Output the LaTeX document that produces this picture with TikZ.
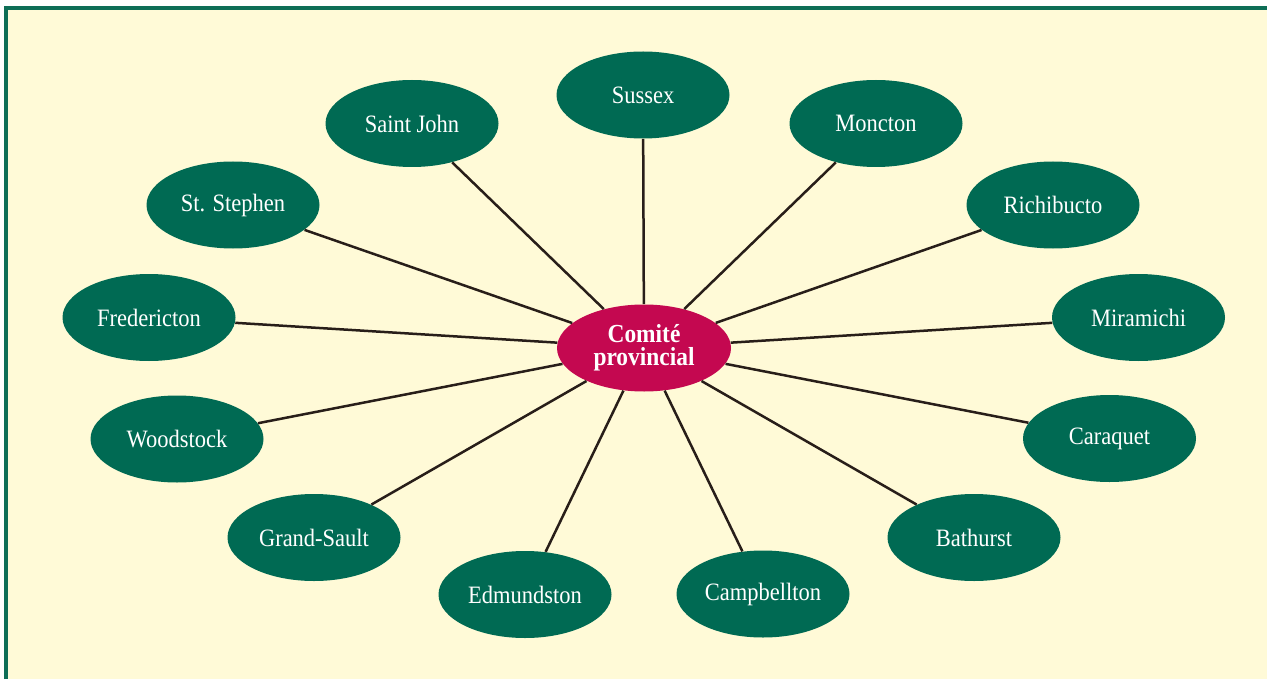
\documentclass[tikz,border=0pt]{standalone}
\usepackage{fontspec}
\setmainfont{Liberation Serif}[FakeStretch=0.9]
\usetikzlibrary{shapes.geometric}
\definecolor{bggreen}{RGB}{0,106,83}
\definecolor{magentac}{RGB}{196,8,80}
\definecolor{creamc}{RGB}{255,250,215}
\definecolor{linec}{RGB}{40,30,25}
\definecolor{framec}{RGB}{14,110,86}
\tikzset{
  town/.style={ellipse, fill=bggreen, text=white, inner sep=0pt,
    minimum width=86.5pt, minimum height=43.5pt,
    font=\fontsize{12.5}{15}\selectfont},
  hub/.style={ellipse, fill=magentac, text=white, inner sep=0pt,
    minimum width=87pt, minimum height=43.5pt, align=center,
    font=\fontsize{13}{11.5}\selectfont\bfseries},
  link/.style={draw=linec, line width=1.25pt}
}
\begin{document}
\begin{tikzpicture}[x=0.5pt, y=-0.5pt]
\useasboundingbox (0,0) rectangle (1267,679);
\fill[white] (0,0) rectangle (1267,679);
\fill[creamc] (5.5,8) rectangle (1267,679);
\draw[framec, line width=2pt] (5.5,679) -- (5.5,8) -- (1267,8);

\node[hub] (c) at (644,348) {Comité\\provincial};

\node[town] (sussex) at (643,95) {Sussex};
\node[town] (saintjohn) at (412,123.5) {Saint John};
\node[town] (moncton) at (876,123.5) {Moncton};
\node[town] (ststephen) at (233,205) {St. Stephen};
\node[town] (richibucto) at (1053,205) {Richibucto};
\node[town] (fredericton) at (149,317.5) {Fredericton};
\node[town] (miramichi) at (1138.5,317.5) {Miramichi};
\node[town] (woodstock) at (177,439) {Woodstock};
\node[town] (caraquet) at (1109.5,438.5) {Caraquet};
\node[town] (grandsault) at (314,537.5) {Grand-Sault};
\node[town] (bathurst) at (974,537.5) {Bathurst};
\node[town] (edmundston) at (525,594.5) {Edmundston};
\node[town] (campbellton) at (763,594) {Campbellton};

\foreach \t in {sussex,saintjohn,moncton,ststephen,richibucto,fredericton,miramichi,woodstock,caraquet,grandsault,bathurst,edmundston,campbellton}
  \draw[link] (c) -- (\t);
\end{tikzpicture}
\end{document}
